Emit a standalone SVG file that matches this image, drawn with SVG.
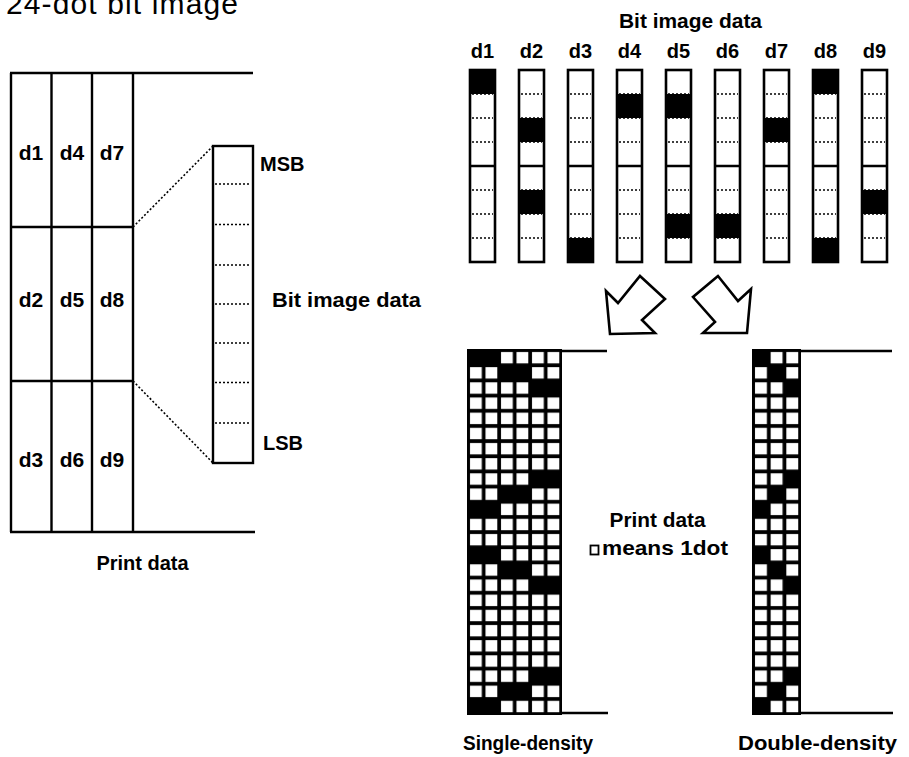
<svg xmlns="http://www.w3.org/2000/svg" width="909" height="757" viewBox="0 0 909 757">
<style>
.t{font-family:"Liberation Sans",Arial,sans-serif;font-weight:bold;fill:#000}
.ln{stroke:#000;stroke-width:2.4;fill:none}
.dt{stroke:#000;stroke-width:1.6;stroke-dasharray:2 2;fill:none}
.blk{fill:#000}
.col{fill:#fff;stroke:#000;stroke-width:2.6}
.arr{fill:#fff;stroke:#000;stroke-width:2.6;stroke-linejoin:miter}
</style>
<defs>
<pattern id="ps" patternUnits="userSpaceOnUse" x="468" y="350" width="15.5" height="15.1667">
<rect x="2" y="2" width="11.8" height="11.4" fill="#fff"/>
</pattern>
<pattern id="pd" patternUnits="userSpaceOnUse" x="753" y="350" width="15.667" height="15.1667">
<rect x="2" y="2" width="11.9" height="11.4" fill="#fff"/>
</pattern>
</defs>
<rect width="909" height="757" fill="#fff"/>

<text x="6" y="14" font-family="Liberation Sans,Arial,sans-serif" font-size="30" textLength="232" lengthAdjust="spacing">24-dot bit image</text>

<g id="print-data-left">
<path class="ln" d="M10 73H253M10 532H255M11 73V532M51.5 73V532M92 73V532M133 73V532M11 227H133M11 381H133"/>
<g class="t" font-size="21" text-anchor="middle">
<text x="31" y="160">d1</text><text x="72" y="160">d4</text><text x="112" y="160">d7</text>
<text x="31" y="307">d2</text><text x="72" y="307">d5</text><text x="112" y="307">d8</text>
<text x="31" y="467">d3</text><text x="72" y="467">d6</text><text x="112" y="467">d9</text>
</g>
<text class="t" x="142.5" y="570" font-size="20" text-anchor="middle">Print data</text>
</g>

<g id="bit-column">
<rect x="213" y="146" width="40" height="317" fill="#fff" stroke="#000" stroke-width="2.4"/>
<path class="dt" d="M215 184H251M215 224.5H251M215 265H251M215 304H251M215 343H251M215 382.5H251M215 423H251"/>
<text class="t" x="260" y="171" font-size="20">MSB</text>
<text class="t" x="272" y="307" font-size="20" textLength="149" lengthAdjust="spacingAndGlyphs">Bit image data</text>
<text class="t" x="263" y="450" font-size="20">LSB</text>
</g>

<g id="bit-image-data">
<text class="t" x="690.5" y="28" font-size="20" text-anchor="middle" textLength="143" lengthAdjust="spacingAndGlyphs">Bit image data</text>
<g class="t" font-size="20" text-anchor="middle">
<text x="482.5" y="58">d1</text><text x="531.5" y="58">d2</text><text x="580.5" y="58">d3</text>
<text x="629.5" y="58">d4</text><text x="678.5" y="58">d5</text><text x="727.5" y="58">d6</text>
<text x="776.5" y="58">d7</text><text x="825.5" y="58">d8</text><text x="874.5" y="58">d9</text>
</g>
<g id="byte-d1"><rect class="col" x="470" y="70" width="25" height="192"/><rect class="blk" x="470" y="70" width="25" height="24"/></g>
<g id="byte-d2"><rect class="col" x="519" y="70" width="25" height="192"/><rect class="blk" x="519" y="118" width="25" height="24"/><rect class="blk" x="519" y="190" width="25" height="24"/></g>
<g id="byte-d3"><rect class="col" x="568" y="70" width="25" height="192"/><rect class="blk" x="568" y="238" width="25" height="24"/></g>
<g id="byte-d4"><rect class="col" x="617" y="70" width="25" height="192"/><rect class="blk" x="617" y="94" width="25" height="24"/></g>
<g id="byte-d5"><rect class="col" x="666" y="70" width="25" height="192"/><rect class="blk" x="666" y="94" width="25" height="24"/><rect class="blk" x="666" y="214" width="25" height="24"/></g>
<g id="byte-d6"><rect class="col" x="715" y="70" width="25" height="192"/><rect class="blk" x="715" y="214" width="25" height="24"/></g>
<g id="byte-d7"><rect class="col" x="764" y="70" width="25" height="192"/><rect class="blk" x="764" y="118" width="25" height="24"/></g>
<g id="byte-d8"><rect class="col" x="813" y="70" width="25" height="192"/><rect class="blk" x="813" y="70" width="25" height="24"/><rect class="blk" x="813" y="238" width="25" height="24"/></g>
<g id="byte-d9"><rect class="col" x="862" y="70" width="25" height="192"/><rect class="blk" x="862" y="190" width="25" height="24"/></g>
<path stroke="#000" stroke-width="2.6" d="M470 166H495M519 166H544M568 166H593M617 166H642M666 166H691M715 166H740M764 166H789M813 166H838M862 166H887"/>
<g class="dt">
<path d="M472 94H493M472 118H493M472 142H493M472 190H493M472 214H493M472 238H493"/>
<path d="M472 94H493M472 118H493M472 142H493M472 190H493M472 214H493M472 238H493" transform="translate(49,0)"/>
<path d="M472 94H493M472 118H493M472 142H493M472 190H493M472 214H493M472 238H493" transform="translate(98,0)"/>
<path d="M472 94H493M472 118H493M472 142H493M472 190H493M472 214H493M472 238H493" transform="translate(147,0)"/>
<path d="M472 94H493M472 118H493M472 142H493M472 190H493M472 214H493M472 238H493" transform="translate(196,0)"/>
<path d="M472 94H493M472 118H493M472 142H493M472 190H493M472 214H493M472 238H493" transform="translate(245,0)"/>
<path d="M472 94H493M472 118H493M472 142H493M472 190H493M472 214H493M472 238H493" transform="translate(294,0)"/>
<path d="M472 94H493M472 118H493M472 142H493M472 190H493M472 214H493M472 238H493" transform="translate(343,0)"/>
<path d="M472 94H493M472 118H493M472 142H493M472 190H493M472 214H493M472 238H493" transform="translate(392,0)"/>
</g>
</g>

<g id="connectors">
<path class="dt" d="M133 227L213 146M133 381L213 463"/>
<polygon class="arr" points="640,276 665,299 642,320 655,333 610,334 606,291 618,303"/>
<polygon class="arr" points="718,276 693,297 715,322 703,333 747,333 751,289 738,301"/>
</g>

<g id="single-density">
<rect x="467" y="349" width="95" height="366" fill="#000"/>
<rect x="468" y="350" width="93" height="364" fill="url(#ps)"/>
<g class="blk">
<rect x="468" y="350" width="31" height="15.2"/><rect x="468" y="501.7" width="31" height="15.2"/><rect x="468" y="547.2" width="31" height="15.2"/><rect x="468" y="698.8" width="31" height="15.2"/>
<rect x="499" y="365.2" width="31" height="15.2"/><rect x="499" y="486.5" width="31" height="15.2"/><rect x="499" y="562.3" width="31" height="15.2"/><rect x="499" y="683.7" width="31" height="15.2"/>
<rect x="530" y="380.3" width="31" height="15.2"/><rect x="530" y="471.3" width="31" height="15.2"/><rect x="530" y="577.5" width="31" height="15.2"/><rect x="530" y="668.5" width="31" height="15.2"/>
</g>
<path class="ln" stroke-width="2.6" d="M561 351H607M561 713H608"/>
<text class="t" x="463" y="750" font-size="20" textLength="130" lengthAdjust="spacingAndGlyphs">Single-density</text>
</g>

<g id="double-density">
<rect x="752" y="349" width="49" height="366" fill="#000"/>
<rect x="753" y="350" width="47" height="364" fill="url(#pd)"/>
<g class="blk">
<rect x="753" y="350" width="15.7" height="15.2"/><rect x="753" y="501.7" width="15.7" height="15.2"/><rect x="753" y="547.2" width="15.7" height="15.2"/><rect x="753" y="698.8" width="15.7" height="15.2"/>
<rect x="768.7" y="365.2" width="15.7" height="15.2"/><rect x="768.7" y="486.5" width="15.7" height="15.2"/><rect x="768.7" y="562.3" width="15.7" height="15.2"/><rect x="768.7" y="683.7" width="15.7" height="15.2"/>
<rect x="784.3" y="380.3" width="15.7" height="15.2"/><rect x="784.3" y="471.3" width="15.7" height="15.2"/><rect x="784.3" y="577.5" width="15.7" height="15.2"/><rect x="784.3" y="668.5" width="15.7" height="15.2"/>
</g>
<path class="ln" stroke-width="2.6" d="M800 351H892M800 713H893"/>
<text class="t" x="738" y="750" font-size="20" textLength="159" lengthAdjust="spacingAndGlyphs">Double-density</text>
</g>

<g id="legend">
<text class="t" x="657.5" y="527" font-size="20" text-anchor="middle" textLength="96" lengthAdjust="spacingAndGlyphs">Print data</text>
<rect x="590.5" y="545.5" width="8" height="9" fill="#fff" stroke="#000" stroke-width="1.8"/>
<text class="t" x="602" y="555" font-size="20" textLength="126" lengthAdjust="spacingAndGlyphs">means 1dot</text>
</g>
</svg>
